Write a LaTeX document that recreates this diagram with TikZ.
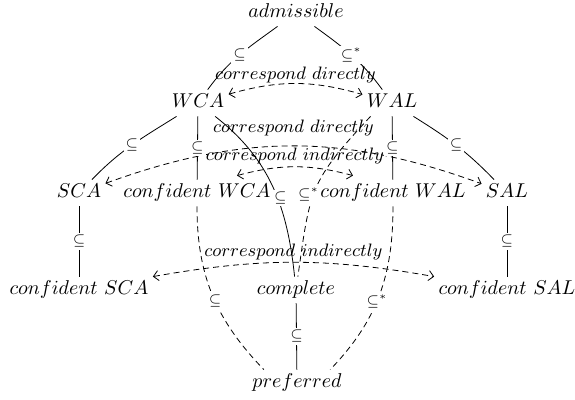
\documentclass[tikz,border=0pt]{standalone}
\usetikzlibrary{arrows.meta}
\begin{document}
\begin{tikzpicture}[x=0.5pt,y=0.5pt,
  obj/.style={anchor=base, inner sep=2pt, text height=7pt, text depth=2pt},
  sub/.style={fill=white, inner sep=1pt, font=\scriptsize},
  tipc/.tip={Straight Barb[length=2.5pt,width=5pt]},
  corr/.style={dash pattern=on 3pt off 2pt, tipc-tipc},
  dsh/.style={dash pattern=on 3pt off 2pt},
  clab/.style={font=\fontsize{9}{10}\selectfont, inner sep=1pt, above}
]
\useasboundingbox (0,0) rectangle (575,400);
% objects
\node[obj] (adm)  at (296,382) {$admissible$};
\node[obj] (wca)  at (198,292) {$WCA$};
\node[obj] (wal)  at (392,292) {$WAL$};
\node[obj] (sca)  at (79,202)  {$SCA$};
\node[obj] (cwca) at (197,202) {$confident\ WCA$};
\node[obj] (cwal) at (393,202) {$confident\ WAL$};
\node[obj] (sal)  at (507,202) {$SAL$};
\node[obj] (csca) at (79,105)  {$confident\ SCA$};
\node[obj] (comp) at (296,105) {$complete$};
\node[obj] (csal) at (507,105) {$confident\ SAL$};
\node[obj] (pref) at (297,12)  {$preferred$};
% correspondences
\draw[corr] (wca) to[bend left=16] node[clab, yshift=-1pt] {$correspond\ directly$} (wal);
\draw[corr] (sca) to[bend left=20] node[clab, yshift=4pt] {$correspond\ directly$} (sal);
\draw[corr] ([xshift=20pt,yshift=2pt]cwca.north) to[bend left=15]
  node[clab] {$correspond\ indirectly$} ([xshift=-20pt,yshift=2pt]cwal.north);
\draw[corr] (csca.north east) to[bend left=10] node[clab] {$correspond\ indirectly$} (csal.north west);
% inclusions
\draw (adm) to[out=216,in=54] node[sub] {$\subseteq$} (wca);
\draw (adm) to[out=324,in=126] node[sub] {$\subseteq^*$} (wal);
\draw (wca) to[out=212,in=46] node[sub] {$\subseteq$} (sca);
\draw (wal) to[out=328,in=134] node[sub] {$\subseteq$} (sal);
\draw (wca) -- node[sub] {$\subseteq$} (cwca);
\draw (wal) -- node[sub] {$\subseteq$} (cwal);
\draw (sca) -- node[sub] {$\subseteq$} (csca);
\draw (sal) -- node[sub] {$\subseteq$} (csal);
\draw (comp) -- node[sub] {$\subseteq$} (pref);
\draw (wca) to[out=-38,in=96] node[sub, pos=0.57, xshift=1.5pt] {$\subseteq$} (comp);
\draw[dsh] (wal.212) to[out=227,in=82,looseness=1.3] node[sub, pos=0.55, xshift=-2.5pt] {$\subseteq^*$} (comp);
\draw[dsh] (cwca) to[out=-90,in=134] node[sub, pos=0.54] {$\subseteq$} (pref.158);
\draw[dsh] (cwal) to[out=-90,in=46] node[sub, pos=0.54] {$\subseteq^*$} (pref.22);
\end{tikzpicture}
\end{document}
